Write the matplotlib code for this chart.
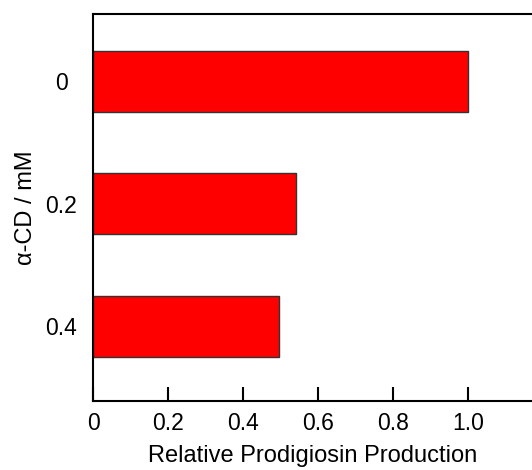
import matplotlib
matplotlib.use("Agg")
from matplotlib import pyplot as plt

plt.rcParams['font.family'] = ['Liberation Sans', 'DejaVu Sans']

concentrations = ['0', '0.2', '0.4']
production = [1.0, 0.54, 0.495]
xticks = [0, 0.2, 0.4, 0.6, 0.8, 1.0]
xtick_labels = ['0', '0.2', '0.4', '0.6', '0.8', '1.0']

fig = plt.figure(figsize=(5.32, 4.70), dpi=100)
ax = fig.add_axes([93 / 532, 1 - 401 / 470, 1 - 93 / 532, (401 - 14) / 470])

pos = list(range(len(concentrations)))
ax.barh(pos, production, height=0.5, color='#ff0000', edgecolor='#333333', linewidth=1)

ax.set_xlim(0, 1.17)
ax.set_ylim(2.61, -0.55)
ax.set_xticks(xticks)
ax.set_xticklabels(xtick_labels)
ax.set_yticks(pos)
ax.set_yticklabels(concentrations, ha='center')

ax.spines['right'].set_visible(False)
for s in ['left', 'top', 'bottom']:
    ax.spines[s].set_linewidth(1.5)
ax.tick_params(axis='x', direction='in', length=10, width=1.5, labelsize=16.5, pad=8)
ax.tick_params(axis='y', length=0, labelsize=16.5, pad=23)

ax.set_xlabel('Relative Prodigiosin Production', fontsize=17, labelpad=7)
ax.set_ylabel('α-CD / mM', fontsize=17, labelpad=6)

fig.savefig('out.png', dpi=100)
